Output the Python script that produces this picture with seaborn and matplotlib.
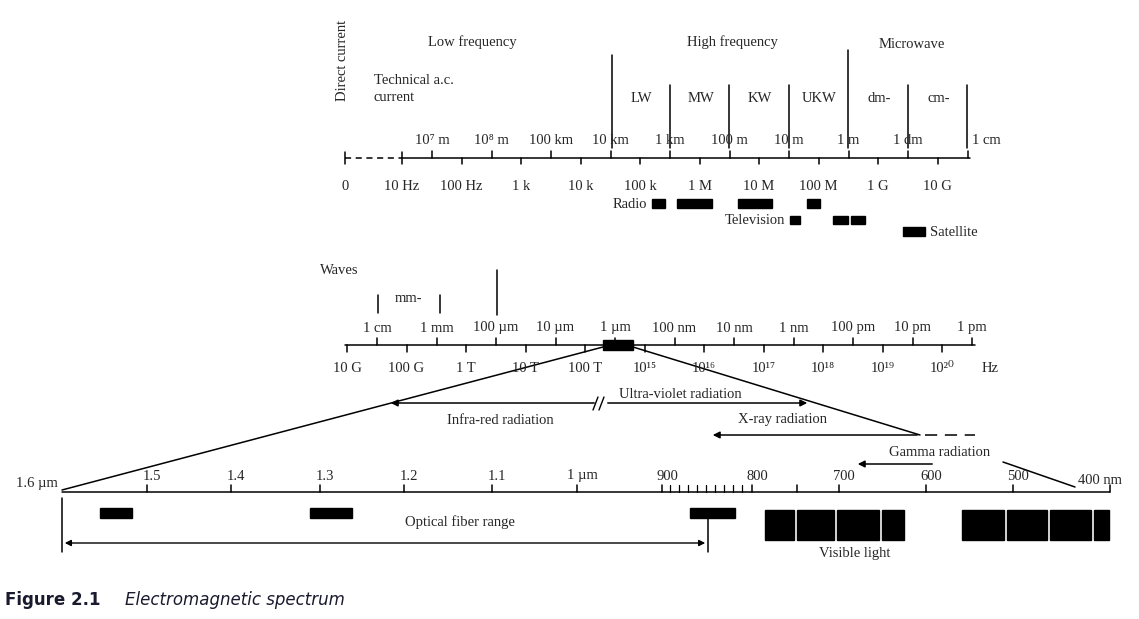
import matplotlib.pyplot as plt
import seaborn as sns

# top scale: frequency below, wavelength above (one decade per step)
top_freq = ["0", "10 Hz", "100 Hz", "1 k", "10 k", "100 k", "1 M", "10 M", "100 M", "1 G", "10 G"]
top_wave = ["10⁷ m", "10⁸ m", "100 km", "10 km", "1 km", "100 m", "10 m", "1 m", "1 dm", "1 cm"]
bands = ["LW", "MW", "KW", "UKW", "dm-", "cm-"]
radio = [(652, 665), (677, 712), (738, 772), (807, 820)]
television = [(790, 800), (833, 848), (851, 865)]
satellite = [(903, 925)]

# middle scale
mid_wave = ["1 cm", "1 mm", "100 µm", "10 µm", "1 µm", "100 nm", "10 nm", "1 nm", "100 pm", "10 pm", "1 pm"]
mid_freq = ["10 G", "100 G", "1 T", "10 T", "100 T", "10¹⁵", "10¹⁶", "10¹⁷", "10¹⁸", "10¹⁹", "10²⁰"]

# bottom scale (optical)
opt_labels = ["1.6 µm", "1.5", "1.4", "1.3", "1.2", "1.1", "1 µm", "900", "800", "700", "600", "500", "400 nm"]
opt_x = [62, 147, 231, 320, 404, 492, 577, 662, 752, 839, 926, 1013, 1095]
fiber_bars = [(100, 132), (310, 352), (690, 735)]
visible_bars = [(765, 795), (797, 835), (837, 880), (882, 905), (962, 1005), (1007, 1048), (1050, 1092), (1094, 1110)]

sns.set_theme(style="white")
plt.rcParams["font.family"] = ["Liberation Serif", "DejaVu Serif"]
fig = plt.figure(figsize=(11.39, 6.19), dpi=100)
ax = fig.add_axes([0, 0, 1, 1])
ax.set_xlim(0, 1139)
ax.set_ylim(619, 0)
ax.axis("off")
fs = 10.5
k = "black"

def line(xs, ys, **kw):
    ax.plot(xs, ys, color=k, lw=kw.pop("lw", 1.1), **kw)

def arrow(x0, x1, y):
    ax.annotate("", xy=(x1, y), xytext=(x0, y),
                arrowprops=dict(arrowstyle="-|>", color=k, lw=1.1, mutation_scale=10))

def bars(spans, y, h):
    for a, b in spans:
        ax.add_patch(plt.Rectangle((a, y - h / 2), b - a, h, color=k))

# ---- top scale ----
y0 = 158
line([345, 402], [y0, y0], ls=(0, (4, 3)))
line([402, 970], [y0, y0])
for i, lab in enumerate(top_freq):
    x = 345 if i == 0 else 402 + (i - 1) * 59.5
    line([x, x], [y0 - (6 if i < 2 else 0), y0 + 6])
    ax.text(x, 186, lab, ha="center", va="center", fontsize=fs)
for i, lab in enumerate(top_wave):
    x = 432 + i * 59.5
    line([x, x], [y0 - 7, y0])
    ax.text(x + (5 if i == 9 else 0), 141, lab, ha="left" if i == 9 else "center", va="center", fontsize=fs)
for x, top in zip([612, 670, 729, 789, 848, 908, 967], [55, 85, 85, 85, 50, 85, 85]):
    line([x, x], [top, 148])
for i, lab in enumerate(bands):
    ax.text(641 + i * 59.5, 98, lab, ha="center", va="center", fontsize=fs)
ax.text(472, 42, "Low frequency", ha="center", va="center", fontsize=fs)
ax.text(732, 42, "High frequency", ha="center", va="center", fontsize=fs)
ax.text(912, 44, "Microwave", ha="center", va="center", fontsize=fs)
ax.text(374, 89, "Technical a.c.\ncurrent", ha="left", va="center", fontsize=fs, linespacing=1.4)
ax.text(342, 60, "Direct current", rotation=90, ha="center", va="center", fontsize=fs)
bars(radio, 203, 9)
bars(television, 220, 8)
bars(satellite, 231, 9)
ax.text(647, 205, "Radio", ha="right", va="center", fontsize=fs)
ax.text(785, 221, "Television", ha="right", va="center", fontsize=fs)
ax.text(930, 232, "Satellite", ha="left", va="center", fontsize=fs)

# ---- middle scale ----
y1 = 345
line([345, 975], [y1, y1])
for i, lab in enumerate(mid_wave):
    x = 377 + i * 59.5
    line([x, x], [y1 - 7, y1])
    ax.text(x, 328, lab, ha="center", va="center", fontsize=fs)
for i, lab in enumerate(mid_freq):
    x = 347 + i * 59.5
    line([x, x], [y1, y1 + 7])
    ax.text(x, 368, lab, ha="center", va="center", fontsize=fs)
ax.text(990, 368, "Hz", ha="center", va="center", fontsize=fs)
ax.text(320, 270, "Waves", ha="left", va="center", fontsize=fs)
line([378, 378], [295, 313]); line([440, 440], [295, 313]); line([497, 497], [270, 315])
ax.text(408, 298, "mm-", ha="center", va="center", fontsize=fs)
ax.add_patch(plt.Rectangle((603, y1 - 5), 30, 10, color=k))

# zoom-in lines and radiation arrows
line([603, 62], [y1 + 2, 490])
line([633, 920], [y1 + 2, 435])
line([1003, 1075], [462, 487])
arrow(597, 388, 403)
ax.text(500, 420, "Infra-red radiation", ha="center", va="center", fontsize=fs)
ax.plot([593, 598], [410, 397], color=k, lw=1); ax.plot([599, 604], [410, 397], color=k, lw=1)
arrow(605, 810, 403)
ax.text(680, 394, "Ultra-violet radiation", ha="center", va="center", fontsize=fs)
arrow(920, 710, 435)
line([925, 975], [435, 435], ls=(0, (8, 5)))
ax.text(783, 420, "X-ray radiation", ha="center", va="center", fontsize=fs)
ax.text(940, 452, "Gamma radiation", ha="center", va="center", fontsize=fs)
arrow(935, 855, 464)

# ---- bottom scale ----
y2 = 492
line([62, 1110], [y2, y2])
for x, lab in zip(opt_x, opt_labels):
    if lab == "1.6 µm":
        ax.text(58, 484, lab, ha="right", va="center", fontsize=fs)
    elif lab == "400 nm":
        ax.text(1078, 481, lab, ha="left", va="center", fontsize=fs)
    else:
        line([x, x], [y2 - 7, y2])
        ax.text(x + 5, 476, lab, ha="center", va="center", fontsize=fs)
for j in range(9):
    xs = 670 + j * 9
    line([xs, xs], [y2 - 7, y2], lw=0.9)
line([797, 797], [y2 - 7, y2])
line([1110, 1110], [y2 - 7, y2])
bars(fiber_bars, 513, 10)
for a, b in visible_bars:
    ax.add_patch(plt.Rectangle((a, 510), b - a - 1.5, 30, color=k))
ax.text(460, 522, "Optical fiber range", ha="center", va="center", fontsize=fs)
line([62, 62], [498, 552]); line([708, 708], [515, 552])
ax.annotate("", xy=(62, 543), xytext=(708, 543),
            arrowprops=dict(arrowstyle="<|-|>", color=k, lw=1.0, mutation_scale=9))
ax.text(855, 553, "Visible light", ha="center", va="center", fontsize=fs)

# caption
ax.text(5, 600, "Figure 2.1", ha="left", va="center", fontsize=12, fontweight="bold",
        family=["DejaVu Sans"], color="#1a1a2e")
ax.text(125, 600, "Electromagnetic spectrum", ha="left", va="center", fontsize=12,
        style="italic", family=["DejaVu Sans"], color="#1a1a2e")

fig.savefig("out.png", dpi=100, facecolor="white")
